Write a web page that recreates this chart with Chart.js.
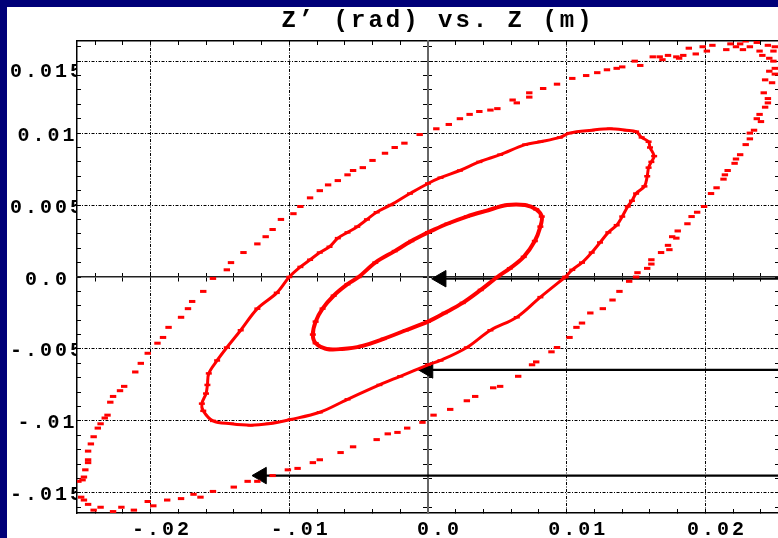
<!DOCTYPE html>
<html><head><meta charset="utf-8">
<script src="https://cdn.jsdelivr.net/npm/chart.js@4.4.1/dist/chart.umd.min.js"></script>
<style>
html,body{margin:0;padding:0;width:778px;height:538px;overflow:hidden;background:#000078;}
#frame{position:absolute;left:7px;top:7px;width:772px;height:531px;background:#fff;}
canvas{display:block;}
</style></head><body>
<div id="frame"><canvas id="chart" width="772" height="531"></canvas></div>
<script>
const titleText = 'Z’ (rad) vs. Z (m)';
const xRange = [-0.0253, 0.0253];
const yRange = [-0.0164, 0.0164];
const xMajorTicks = [-0.02, -0.01, 0, 0.01, 0.02];
const xTickLabels = ['-.02', '-.01', '0.0', '0.01', '0.02'];
const yMajorTicks = [0.015, 0.01, 0.005, 0, -0.005, -0.01, -0.015];
const yTickLabels = ['0.015', '0.01', '0.005', '0.0', '-.005', '-.01', '-.015'];
const xMinorStep = 0.002;
const yMinorStep = 0.001;

const innerRing = [
[0.0000,0.0031],[0.0014,0.0037],[0.0028,0.0042],[0.0042,0.0046],[0.0057,0.0050],[0.0070,0.0050],[0.0078,0.0047],[0.0082,0.0042],[0.0081,0.0035],[0.0077,0.0025],[0.0069,0.0014],[0.0059,0.0006],[0.0050,0.0000],[0.0038,-0.0009],[0.0025,-0.0018],[0.0012,-0.0025],[0.0000,-0.0031],[-0.0016,-0.0037],[-0.0032,-0.0043],[-0.0048,-0.0048],[-0.0062,-0.0050],[-0.0073,-0.0050],[-0.0081,-0.0046],[-0.0083,-0.0040],[-0.0081,-0.0031],[-0.0076,-0.0022],[-0.0068,-0.0013],[-0.0058,-0.0005],[-0.0050,0.0000],[-0.0038,0.0010],[-0.0024,0.0018],[-0.0012,0.0025],[0.0000,0.0031]
];

const middleRing = [
[0.0099,0.0000],[0.0104,0.0005],[0.0111,0.0010],[0.0118,0.0017],[0.0124,0.0024],[0.0130,0.0031],[0.0136,0.0036],[0.0140,0.0042],[0.0144,0.0049],[0.0147,0.0053],[0.0150,0.0058],[0.0156,0.0063],[0.0158,0.0070],[0.0159,0.0076],[0.0161,0.0080],[0.0163,0.0084],[0.0160,0.0090],[0.0159,0.0094],[0.0154,0.0097],[0.0150,0.0101],[0.0143,0.0102],[0.0131,0.0103],[0.0118,0.0102],[0.0102,0.0100],[0.0095,0.0097],[0.0081,0.0094],[0.0070,0.0092],[0.0052,0.0085],[0.0037,0.0080],[0.0023,0.0074],[0.0009,0.0069],[0.0000,0.0065],[-0.0013,0.0058],[-0.0027,0.0050],[-0.0037,0.0045],[-0.0044,0.0040],[-0.0051,0.0035],[-0.0058,0.0031],[-0.0065,0.0027],[-0.0071,0.0021],[-0.0078,0.0017],[-0.0085,0.0012],[-0.0092,0.0007],[-0.0100,0.0000],[-0.0109,-0.0011],[-0.0123,-0.0022],[-0.0135,-0.0037],[-0.0145,-0.0049],[-0.0152,-0.0058],[-0.0158,-0.0067],[-0.0159,-0.0075],[-0.0160,-0.0081],[-0.0163,-0.0088],[-0.0162,-0.0093],[-0.0155,-0.0100],[-0.0142,-0.0102],[-0.0128,-0.0103],[-0.0115,-0.0102],[-0.0099,-0.0099],[-0.0078,-0.0094],[-0.0058,-0.0085],[-0.0035,-0.0075],[-0.0020,-0.0069],[0.0000,-0.0061],[0.0009,-0.0058],[0.0028,-0.0049],[0.0045,-0.0037],[0.0064,-0.0028],[0.0081,-0.0014],[0.0099,0.0000]
];

const outerRing = [
[-0.0252,-0.0142],[-0.0250,-0.0153],[-0.0248,-0.0155],[-0.0249,-0.0141],[-0.0248,-0.0139],[-0.0247,-0.0134],[-0.0245,-0.0129],[-0.0245,-0.0127],[-0.0245,-0.0121],[-0.0243,-0.0116],[-0.0241,-0.0111],[-0.0238,-0.0105],[-0.0236,-0.0102],[-0.0233,-0.0098],[-0.0231,-0.0096],[-0.0229,-0.0087],[-0.0227,-0.0083],[-0.0222,-0.0079],[-0.0219,-0.0076],[-0.0211,-0.0066],[-0.0207,-0.0060],[-0.0202,-0.0053],[-0.0195,-0.0046],[-0.0191,-0.0042],[-0.0187,-0.0035],[-0.0178,-0.0028],[-0.0173,-0.0022],[-0.0170,-0.0017],[-0.0162,-0.0010],[-0.0155,-0.0001],[-0.0145,0.0005],[-0.0142,0.0010],[-0.0133,0.0017],[-0.0123,0.0023],[-0.0117,0.0028],[-0.0112,0.0033],[-0.0106,0.0040],[-0.0097,0.0044],[-0.0092,0.0049],[-0.0085,0.0055],[-0.0078,0.0060],[-0.0072,0.0064],[-0.0065,0.0067],[-0.0058,0.0071],[-0.0054,0.0074],[-0.0047,0.0076],[-0.0040,0.0081],[-0.0031,0.0086],[-0.0024,0.0090],[-0.0017,0.0093],[-0.0006,0.0099],[0.0006,0.0103],[0.0015,0.0106],[0.0023,0.0110],[0.0030,0.0113],[0.0037,0.0115],[0.0045,0.0116],[0.0050,0.0117],[0.0061,0.0123],[0.0064,0.0121],[0.0073,0.0128],[0.0073,0.0125],[0.0083,0.0131],[0.0093,0.0134],[0.0104,0.0138],[0.0114,0.0140],[0.0122,0.0142],[0.0129,0.0144],[0.0136,0.0145],[0.0140,0.0146],[0.0149,0.0150],[0.0153,0.0147],[0.0162,0.0153],[0.0167,0.0153],[0.0169,0.0151],[0.0173,0.0154],[0.0179,0.0153],[0.0181,0.0152],[0.0184,0.0154],[0.0188,0.0159],[0.0193,0.0155],[0.0198,0.0160],[0.0201,0.0157],[0.0205,0.0161],[0.0215,0.0158],[0.0218,0.0162],[0.0222,0.0160],[0.0225,0.0162],[0.0227,0.0158],[0.0229,0.0164],[0.0232,0.0160],[0.0237,0.0163],[0.0239,0.0157],[0.0241,0.0154],[0.0245,0.0161],[0.0250,0.0160],[0.0249,0.0157],[0.0246,0.0152],[0.0249,0.0150],[0.0250,0.0145],[0.0246,0.0143],[0.0250,0.0141],[0.0243,0.0137],[0.0248,0.0135],[0.0242,0.0128],[0.0245,0.0124],[0.0245,0.0121],[0.0243,0.0118],[0.0239,0.0113],[0.0237,0.0110],[0.0240,0.0108],[0.0235,0.0102],[0.0232,0.0100],[0.0232,0.0096],[0.0229,0.0092],[0.0225,0.0085],[0.0222,0.0082],[0.0221,0.0079],[0.0216,0.0074],[0.0214,0.0071],[0.0213,0.0068],[0.0208,0.0062],[0.0204,0.0058],[0.0199,0.0049],[0.0194,0.0045],[0.0190,0.0042],[0.0187,0.0037],[0.0180,0.0032],[0.0176,0.0028],[0.0179,0.0027],[0.0173,0.0022],[0.0174,0.0019],[0.0168,0.0017],[0.0161,0.0012],[0.0161,0.0009],[0.0158,0.0006],[0.0151,0.0003],[0.0150,0.0000],[0.0145,-0.0003],[0.0138,-0.0010],[0.0133,-0.0016],[0.0126,-0.0022],[0.0117,-0.0025],[0.0111,-0.0032],[0.0107,-0.0035],[0.0102,-0.0042],[0.0093,-0.0049],[0.0089,-0.0052],[0.0078,-0.0059],[0.0075,-0.0061],[0.0065,-0.0069],[0.0052,-0.0076],[0.0047,-0.0077],[0.0034,-0.0083],[0.0028,-0.0086],[0.0016,-0.0092],[0.0004,-0.0096],[-0.0004,-0.0101],[-0.0015,-0.0105],[-0.0022,-0.0108],[-0.0029,-0.0109],[-0.0037,-0.0113],[-0.0054,-0.0118],[-0.0063,-0.0122],[-0.0078,-0.0127],[-0.0083,-0.0129],[-0.0094,-0.0133],[-0.0101,-0.0134],[-0.0112,-0.0138],[-0.0123,-0.0142],[-0.0130,-0.0142],[-0.0140,-0.0146],[-0.0155,-0.0149],[-0.0164,-0.0153],[-0.0169,-0.0151],[-0.0178,-0.0154],[-0.0188,-0.0155],[-0.0198,-0.0159],[-0.0202,-0.0156],[-0.0212,-0.0162],[-0.0221,-0.0160],[-0.0227,-0.0163],[-0.0236,-0.0160],[-0.0241,-0.0162],[-0.0245,-0.0158]
];

const arrowY = [-0.00012, -0.00646, -0.0138];
const arrowHeadX = [0.00095, 0.0, -0.0120];

const FONT = "'Liberation Mono', 'DejaVu Sans Mono', monospace";
const tickFont = {family: FONT, size: 20, weight: 'bold', lineHeight: 0.8};
const RED = '#ff0000';
const CLEAR = 'rgba(0,0,0,0)';

function stepValues(step, range) {
  const out = [];
  for (let i = Math.ceil(range[0] / step - 1e-9); i * step <= range[1] + 1e-12; i++) {
    out.push(Math.round(i * step * 1e6) / 1e6);
  }
  return out;
}
const xTickValues = stepValues(xMinorStep, xRange);
const yTickValues = stepValues(yMinorStep, yRange);
const findMajor = (majors, v) => majors.findIndex(m => Math.abs(m - v) < 1e-9);
const yTop = Math.max(...yMajorTicks);

function xLabel(v) { const i = findMajor(xMajorTicks, v); return i < 0 ? '' : xTickLabels[i]; }
function yLabel(v) {
  const i = findMajor(yMajorTicks, v);
  if (i < 0) return '';
  return Math.abs(v - yTop) < 1e-9 ? ['', yTickLabels[i]] : yTickLabels[i];
}
const gridColor = majors => ctx => {
  const t = ctx.tick;
  if (!t) return CLEAR;
  return (findMajor(majors, t.value) >= 0 && Math.abs(t.value) > 1e-9) ? '#000' : CLEAR;
};
const toXY = arr => arr.map(p => ({x: p[0], y: p[1]}));

function setTicks(values) { return s => { s.ticks = values.map(v => ({value: v})); }; }

function plainScale(axis, position, values, range, tickLength, borderOpts, fitFn) {
  const o = {
    type: 'linear', axis: axis, position: position, min: range[0], max: range[1], bounds: 'data',
    afterBuildTicks: setTicks(values),
    ticks: {display: false, autoSkip: false},
    grid: {drawOnChartArea: false, drawTicks: true, tickLength: tickLength, color: '#000', tickColor: '#000', tickWidth: 1, tickBorderDash: []},
    border: borderOpts
  };
  if (fitFn) o.afterFit = fitFn;
  return o;
}

const textPlugin = {
  id: 'textSpacing',
  beforeLayout(chart) { chart.ctx.letterSpacing = '3px'; },
  afterLayout(chart) {
    const t = chart.titleBlock;
    if (t) { t.left = 431 - 350; t.right = 431 + 350; }
  },
  beforeDraw(chart) { chart.ctx.letterSpacing = '3px'; }
};

const ringLine = (data, width) => ({
  data: toXY(data), xAxisID: 'x', yAxisID: 'y', showLine: true, fill: false,
  borderColor: RED, borderWidth: width, tension: 0.35,
  pointStyle: 'line', pointRadius: 3, pointBorderWidth: 2.5, pointBorderColor: RED, pointBackgroundColor: RED
});

const datasets = [
  ringLine(innerRing, 4),
  ringLine(middleRing, 3),
  {data: toXY(outerRing), xAxisID: 'x', yAxisID: 'y', showLine: false,
   pointStyle: 'line', pointRadius: 3.2, pointBorderWidth: 3, pointBorderColor: RED, pointBackgroundColor: RED, borderColor: RED},
  ...arrowY.map((y, i) => ({
    data: [{x: arrowHeadX[i], y: y}, {x: xRange[1], y: y}], xAxisID: 'x', yAxisID: 'y',
    showLine: true, borderColor: '#000', borderWidth: 2.2, tension: 0,
    pointStyle: 'triangle', pointRadius: [9.5, 0], pointRotation: 270,
    pointBackgroundColor: '#000', pointBorderColor: '#000', pointBorderWidth: 1
  }))
];

new Chart(document.getElementById('chart'), {
  type: 'line',
  data: {datasets: datasets},
  plugins: [textPlugin],
  options: {
    responsive: false, animation: false, devicePixelRatio: 1, events: [],
    layout: {padding: 0, autoPadding: false},
    plugins: {
      legend: {display: false}, tooltip: {enabled: false},
      title: {display: true, text: titleText, color: '#000',
        font: {family: FONT, size: 24, weight: 'bold', lineHeight: 1.15},
        padding: {top: 0, bottom: 6.4}}
    },
    scales: {
      x: {
        type: 'linear', axis: 'x', position: 'bottom', min: xRange[0], max: xRange[1], bounds: 'data',
        afterBuildTicks: setTicks(xTickValues),
        afterFit: s => { s.height = 25; },
        ticks: {autoSkip: false, maxRotation: 0, minRotation: 0, padding: 10.5, labelOffset: 11.5,
          color: '#000', font: {family: FONT, size: 20, weight: 'bold', lineHeight: 1.05}, callback: v => xLabel(v)},
        grid: {color: gridColor(xMajorTicks), lineWidth: 1, drawTicks: true, tickLength: -4,
          tickColor: '#000', tickWidth: 1, tickBorderDash: []},
        border: {display: true, color: '#000', width: 1.5, dash: [3, 1.5, 1, 1.5]}
      },
      y: {
        type: 'linear', axis: 'y', position: 'left', min: yRange[0], max: yRange[1], bounds: 'data',
        afterBuildTicks: setTicks(yTickValues),
        afterFit: s => { s.width = 70; },
        ticks: {autoSkip: false, crossAlign: 'center', padding: -4, labelOffset: 2.5,
          color: '#000', font: tickFont, callback: v => yLabel(v)},
        grid: {color: gridColor(yMajorTicks), lineWidth: 1, drawTicks: true, tickLength: -4,
          tickColor: '#000', tickWidth: 1, tickBorderDash: []},
        border: {display: true, color: '#000', width: 1.5, dash: [3, 1.5, 1, 1.5]}
      },
      xTop: plainScale('x', 'top', xTickValues, xRange, -4, {display: true, color: '#000', width: 1.5}, s => { s.height = 0; }),
      yRight: plainScale('y', 'right', yTickValues, yRange, -4, {display: true, color: '#000', width: 1.5}, s => { s.width = 0; }),
      xZeroA: plainScale('x', {y: 0}, xTickValues, xRange, 4, {display: true, color: '#222', width: 1.5}),
      xZeroB: plainScale('x', {y: 0}, xTickValues, xRange, -4, {display: false}),
      yZeroA: plainScale('y', {x: 0}, yTickValues, yRange, 4, {display: true, color: '#666', width: 2}),
      yZeroB: plainScale('y', {x: 0}, yTickValues, yRange, -4, {display: false})
    }
  }
});
</script></body></html>
